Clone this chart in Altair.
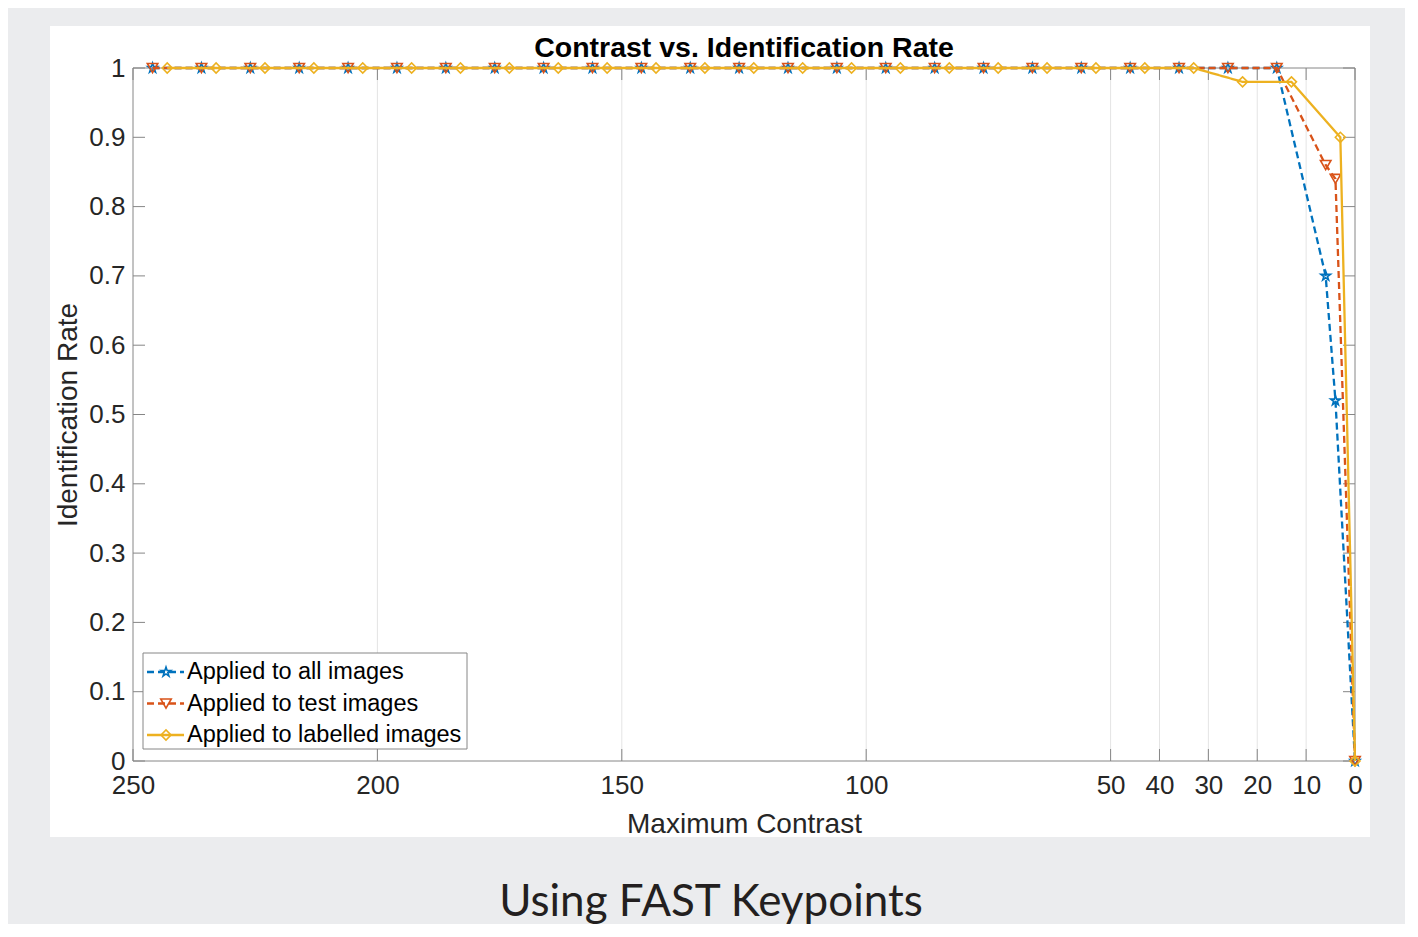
import altair as alt
import pandas as pd

# ---------------- data ----------------
x_all = [246, 236, 226, 216, 206, 196, 186, 176, 166, 156, 146, 136, 126, 116,
         106, 96, 86, 76, 66, 56, 46, 36, 26, 16, 6, 4, 0]
y_all = [1, 1, 1, 1, 1, 1, 1, 1, 1, 1, 1, 1, 1, 1,
         1, 1, 1, 1, 1, 1, 1, 1, 1, 1, 0.70, 0.52, 0]

x_test = [246, 236, 226, 216, 206, 196, 186, 176, 166, 156, 146, 136, 126, 116,
          106, 96, 86, 76, 66, 56, 46, 36, 26, 16, 6, 4, 0]
y_test = [1, 1, 1, 1, 1, 1, 1, 1, 1, 1, 1, 1, 1, 1,
          1, 1, 1, 1, 1, 1, 1, 1, 1, 1, 0.86, 0.84, 0]

x_lab = [243, 233, 223, 213, 203, 193, 183, 173, 163, 153, 143, 133, 123, 113,
         103, 93, 83, 73, 63, 53, 43, 33, 23, 13, 3, 0]
y_lab = [1, 1, 1, 1, 1, 1, 1, 1, 1, 1, 1, 1, 1, 1,
         1, 1, 1, 1, 1, 1, 1, 1, 0.98, 0.98, 0.90, 0]

series_names = ["Applied to all images", "Applied to test images", "Applied to labelled images"]
x_tick_values = [250, 200, 150, 100, 50, 40, 30, 20, 10, 0]
y_tick_values = [0, 0.1, 0.2, 0.3, 0.4, 0.5, 0.6, 0.7, 0.8, 0.9, 1]

chart_title = "Contrast vs. Identification Rate"
x_title = "Maximum Contrast"
y_title = "Identification Rate"
caption = "Using FAST Keypoints"

# ---------------- styles ----------------
W, H = 1222, 693
FONT = "Liberation Sans"
TXT = "#262626"
AXC = "#868686"
GRIDC = "#e4e4e4"
colors = ["#0072BD", "#D95319", "#EDB120"]
STAR = ("M0,-1L0.225,-0.309L0.951,-0.309L0.363,0.118L0.588,0.809L0,0.382"
        "L-0.588,0.809L-0.363,0.118L-0.951,-0.309L-0.225,-0.309Z")
shapes = [STAR, "triangle-down", "diamond"]
sizes = [100, 110, 100]
dashes = [[7, 4], [7, 4], [1, 0]]
LW = 2.3
MW = 1.6

xs = alt.Scale(domain=[0, 250], reverse=True, nice=False, zero=False)
ys = alt.Scale(domain=[0, 1], nice=False, zero=False)

x_axis = alt.Axis(values=x_tick_values, format="d", labelFontSize=26, labelFont=FONT,
                  labelColor=TXT, labelPadding=11, ticks=False, domain=False, grid=False,
                  title=x_title, titleFontSize=28, titleFont=FONT, titleFontWeight="normal",
                  titleColor=TXT, titlePadding=12, zindex=1, labelOverlap=False, labelFlush=False)
y_axis = alt.Axis(values=y_tick_values, format=".1~f", labelFontSize=26, labelFont=FONT,
                  labelColor=TXT, labelPadding=8, ticks=False, domain=False, grid=False,
                  title=y_title, titleFontSize=28, titleFont=FONT, titleFontWeight="normal",
                  titleColor=TXT, titlePadding=6, zindex=1, labelOverlap=False, labelFlush=False)

X = alt.X("x:Q", scale=xs, axis=x_axis)
Y = alt.Y("y:Q", scale=ys, axis=y_axis)

one = pd.DataFrame({"k": [0]})

# white figure background
fig_bg = alt.Chart(one).mark_rect(fill="white", stroke=None).encode(
    x=alt.value(-83), x2=alt.value(1237), y=alt.value(-42), y2=alt.value(769))

# vertical grid lines (interior ticks only)
grid_df = pd.DataFrame({"x": [v for v in x_tick_values if v not in (0, 250)]})
grid = alt.Chart(grid_df).mark_rule(color=GRIDC, strokeWidth=1).encode(
    x=X, y=alt.value(0), y2=alt.value(H))

# box
box = alt.Chart(one).mark_rect(filled=False, stroke=AXC, strokeWidth=1).encode(
    x=alt.value(0), x2=alt.value(W), y=alt.value(0), y2=alt.value(H))

# inward ticks
xt_df = pd.DataFrame({"x": x_tick_values})
yt_df = pd.DataFrame({"y": y_tick_values})
TL = 12
xt_bot = alt.Chart(xt_df).mark_rule(color=AXC).encode(x=X, y=alt.value(H - TL), y2=alt.value(H))
xt_top = alt.Chart(xt_df).mark_rule(color=AXC).encode(x=X, y=alt.value(0), y2=alt.value(TL))
yt_left = alt.Chart(yt_df).mark_rule(color=AXC).encode(y=Y, x=alt.value(0), x2=alt.value(TL))
yt_right = alt.Chart(yt_df).mark_rule(color=AXC).encode(y=Y, x=alt.value(W - TL), x2=alt.value(W))

# data series
series_layers = []
for xv, yv, c, shp, sz, dsh in zip([x_all, x_test, x_lab], [y_all, y_test, y_lab],
                                   colors, shapes, sizes, dashes):
    df = pd.DataFrame({"x": xv, "y": yv})
    line = alt.Chart(df).mark_line(color=c, strokeWidth=LW, strokeDash=dsh).encode(x=X, y=Y)
    pts = alt.Chart(df).mark_point(shape=shp, size=sz, filled=False, color=c,
                                   strokeWidth=MW, opacity=1).encode(x=X, y=Y)
    series_layers += [line, pts]

# legend
leg_box = alt.Chart(one).mark_rect(fill="white", stroke=AXC, strokeWidth=1).encode(
    x=alt.value(10), x2=alt.value(334), y=alt.value(585), y2=alt.value(681))
legend_layers = [leg_box]
for i, (name, c, shp, sz, dsh) in enumerate(zip(series_names, colors, shapes, sizes, dashes)):
    yy = 604 + 31.5 * i
    ldf = pd.DataFrame({"label": [name]})
    legend_layers.append(alt.Chart(ldf).mark_rule(color=c, strokeWidth=LW, strokeDash=dsh).encode(
        x=alt.value(14), x2=alt.value(51), y=alt.value(yy)))
    legend_layers.append(alt.Chart(ldf).mark_point(shape=shp, size=sz, filled=False, color=c,
                                                   strokeWidth=MW, opacity=1).encode(
        x=alt.value(33), y=alt.value(yy)))
    legend_layers.append(alt.Chart(ldf).mark_text(align="left", baseline="middle", font=FONT,
                                                  fontSize=23.5, color="black").encode(
        x=alt.value(54), y=alt.value(yy), text="label:N"))

# chart title (above the plot box)
ttl = alt.Chart(pd.DataFrame({"t": [chart_title]})).mark_text(
    align="center", baseline="alphabetic", font=FONT, fontSize=28.5, fontWeight="bold",
    color="black").encode(x=alt.value(W / 2), y=alt.value(-11), text="t:N")

# caption below the figure
cap = alt.Chart(pd.DataFrame({"t": [caption]})).mark_text(
    align="center", baseline="alphabetic", font="Lato", fontSize=44, color="#231f20").encode(
    x=alt.value(578), y=alt.value(848), text="t:N")

chart = alt.layer(
    fig_bg, grid, box, xt_bot, xt_top, yt_left, yt_right,
    *series_layers, *legend_layers, ttl, cap
).properties(
    width=W, height=H,
    autosize=alt.AutoSizeParams(type="none"),
    padding={"left": 125, "top": 60, "right": 50, "bottom": 163},
    background="#ebecee",
).configure_view(stroke=None)

chart.save("out.html", embed_options={"renderer": "svg", "actions": False})
